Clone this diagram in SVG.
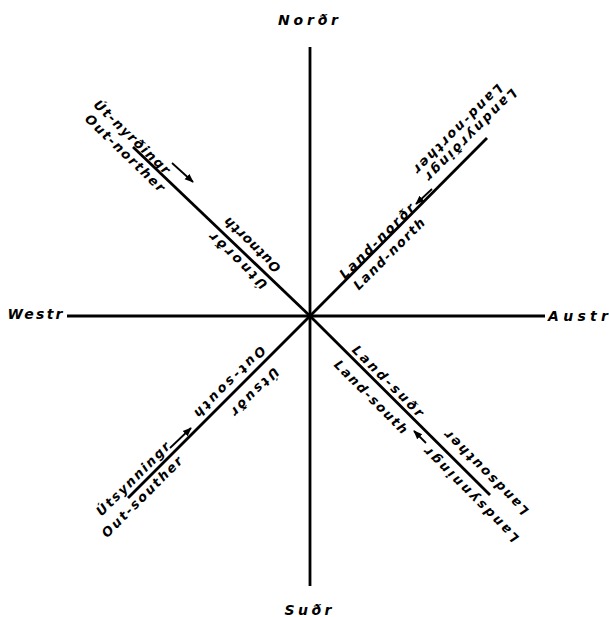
<svg xmlns="http://www.w3.org/2000/svg" width="609" height="617" viewBox="0 0 609 617">
<defs>
<marker id="ah" viewBox="0 0 10 10" refX="9" refY="5" markerWidth="5" markerHeight="5" orient="auto" markerUnits="strokeWidth">
<path d="M0,1 L10,5 L0,9 Z" fill="#000"/>
</marker>
<style>
.ln{stroke:#000;stroke-width:2.8;fill:none;stroke-linecap:butt}
.ar{stroke:#000;stroke-width:1.8;fill:none;marker-end:url(#ah)}
text{font-family:"DejaVu Sans","Liberation Sans",sans-serif;font-weight:bold;font-style:italic;fill:#000}
.c{font-size:14px}
.d{font-size:13px}
</style>
</defs>
<rect width="609" height="617" fill="#fff"/>
<g id="connectors">
<line class="ln" x1="310" y1="47" x2="310" y2="586"/>
<line class="ln" x1="67" y1="316" x2="545" y2="316"/>
<line class="ln" x1="133" y1="147" x2="310" y2="316"/>
<line class="ln" x1="487" y1="138" x2="310" y2="316"/>
<line class="ln" x1="128" y1="498" x2="310" y2="316"/>
<line class="ln" x1="490" y1="495" x2="310" y2="316"/>
<path class="ar" d="M172,163 L193,182"/>
<path class="ar" d="M432,189 L416,204"/>
<path class="ar" d="M170,448 L191,428"/>
<path class="ar" d="M426,443 L414,431"/>
</g>
<g id="norr"><text class="c" x="308" y="25" text-anchor="middle" textLength="60">Norðr</text></g>
<g id="sur"><text class="c" x="308" y="615" text-anchor="middle" textLength="47">Suðr</text></g>
<g id="westr"><text class="c" x="35" y="319" text-anchor="middle" textLength="55">Westr</text></g>
<g id="austr"><text class="c" x="578" y="321" text-anchor="middle" textLength="60">Austr</text></g>
<g id="nw">
<text class="d" transform="translate(132,137) rotate(44)" text-anchor="middle" dy="0.35em" textLength="100">Út-nyrðingr</text>
<text class="d" transform="translate(125,153) rotate(44)" text-anchor="middle" dy="0.35em" textLength="105">Out-norther</text>
<text class="d" transform="translate(252,245) rotate(224)" text-anchor="middle" dy="0.35em" textLength="73">Outnorth</text>
<text class="d" transform="translate(238,261) rotate(224)" text-anchor="middle" dy="0.35em" textLength="75">Útnorðr</text>
</g>
<g id="ne">
<text class="d" transform="translate(377,241) rotate(-45)" text-anchor="middle" dy="0.35em" textLength="100">Land-norðr</text>
<text class="d" transform="translate(389,254) rotate(-45)" text-anchor="middle" dy="0.35em" textLength="95">Land-north</text>
<text class="d" transform="translate(458,129) rotate(135)" text-anchor="middle" dy="0.35em" textLength="120">Land-norther</text>
<text class="d" transform="translate(471,135) rotate(135)" text-anchor="middle" dy="0.35em" textLength="124">Landnyrðingr</text>
</g>
<g id="sw">
<text class="d" transform="translate(133,479) rotate(-45)" text-anchor="middle" dy="0.35em" textLength="98">Útsynningr</text>
<text class="d" transform="translate(142,497) rotate(-45)" text-anchor="middle" dy="0.35em" textLength="108">Out-souther</text>
<text class="d" transform="translate(230,382) rotate(135)" text-anchor="middle" dy="0.35em" textLength="95">Out-south</text>
<text class="d" transform="translate(255,392) rotate(135)" text-anchor="middle" dy="0.35em" textLength="62">Útsuðr</text>
</g>
<g id="se">
<text class="d" transform="translate(388,381) rotate(45)" text-anchor="middle" dy="0.35em" textLength="95">Land-suðr</text>
<text class="d" transform="translate(371,397) rotate(45)" text-anchor="middle" dy="0.35em" textLength="98">Land-south</text>
<text class="d" transform="translate(486,473) rotate(225)" text-anchor="middle" dy="0.35em" textLength="113">Landsouther</text>
<text class="d" transform="translate(471,495) rotate(225)" text-anchor="middle" dy="0.35em" textLength="128">Landsynningr</text>
</g>
</svg>
